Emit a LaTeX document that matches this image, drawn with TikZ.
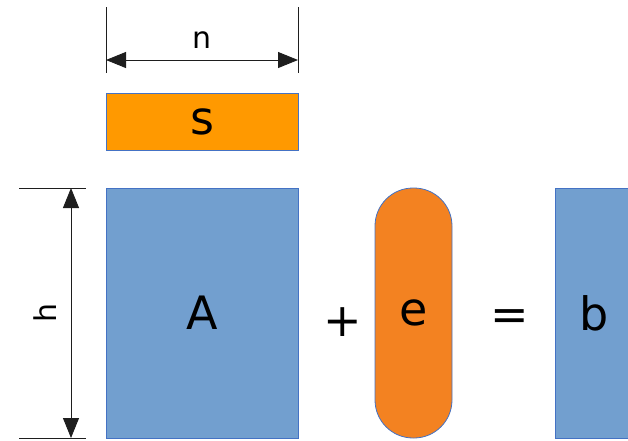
\documentclass[tikz,border=0pt]{standalone}
\usepackage{fontspec}
\setmainfont{DejaVu Sans}
\usetikzlibrary{arrows.meta}
\definecolor{sorange}{RGB}{255,153,0}
\definecolor{eorange}{RGB}{243,130,33}
\definecolor{mblue}{RGB}{114,159,207}
\definecolor{bordblue}{RGB}{68,114,196}
\definecolor{dimgray}{RGB}{30,30,30}
\tikzset{
  box/.style={draw=bordblue, line width=0.8pt, inner sep=0pt, outer sep=0pt},
  bigtxt/.style={font=\fontsize{46}{50}\selectfont},
  dimtxt/.style={font=\fontsize{30}{34}\selectfont},
  dimline/.style={draw=dimgray, line width=0.9pt},
  dimarrow/.style={dimline, {Triangle[length=20pt,width=16pt]}-{Triangle[length=20pt,width=16pt]}},
}
\begin{document}
\begin{tikzpicture}[x=1pt,y=-1pt]
\useasboundingbox (0,0) rectangle (628,440);
\clip (0,0) rectangle (628,440);
% s
\node[box, fill=sorange, minimum width=192pt, minimum height=57pt, bigtxt] (s) at (202,121.5) {s};
% A
\node[box, fill=mblue, minimum width=192pt, minimum height=250pt, bigtxt] (A) at (202,313) {A};
% e
\node[box, fill=eorange, rounded corners=38pt, minimum width=77pt, minimum height=250pt, bigtxt] (e) at (413.5,313) {};
\node[bigtxt] (etxt) at (413.5,313) {e};
% b
\node[box, fill=mblue, minimum width=95pt, minimum height=250pt] (b) at (602.5,313) {};
\node[bigtxt] (btxt) at (594,313) {b};
% operators
\node[bigtxt] (plus) at (343,322) {+};
\node[bigtxt] (eq) at (510,320) {=};
% n dimension
\coordinate (n1t) at (106,7);
\coordinate (n1b) at (106,73);
\coordinate (n2t) at (298,7);
\coordinate (n2b) at (298,73);
\coordinate (na) at (106,60);
\coordinate (nb) at (298,60);
\draw[dimline] (n1t) -- (n1b);
\draw[dimline] (n2t) -- (n2b);
\draw[dimarrow] (na) -- (nb);
\node[dimtxt] (n) at (202,40) {n};
% h dimension
\coordinate (h1l) at (19,188);
\coordinate (h1r) at (86,188);
\coordinate (h2l) at (19,438);
\coordinate (h2r) at (86,438);
\coordinate (ha) at (71,188);
\coordinate (hb) at (71,438);
\draw[dimline] (h1l) -- (h1r);
\draw[dimline] (h2l) -- (h2r);
\draw[dimarrow] (ha) -- (hb);
\node[dimtxt, rotate=90] (h) at (45,313) {h};
\end{tikzpicture}
\end{document}
